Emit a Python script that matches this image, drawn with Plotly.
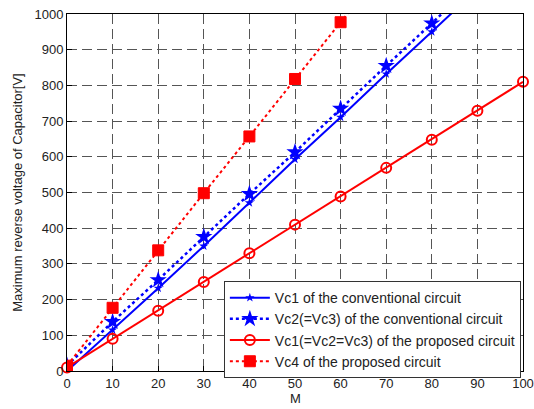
import plotly.graph_objects as go

M = [0, 10, 20, 30, 40, 50, 60, 70, 80, 90, 100]
vc1_conv = [0, 115, 232, 350, 471, 593, 711, 832, 950, 1070, 1190]
vc2_conv = [15, 138, 255, 376, 496, 613, 735, 855, 974, 1094, 1214]
vc1_prop = [10, 90, 169, 249, 330, 410, 489, 569, 648, 729, 810]
vc4_prop = [15, 177, 338, 498, 657, 818, 977, 1137, 1297, 1457, 1617]

x_ticks = list(range(0, 101, 10))
y_ticks = list(range(0, 1001, 100))

BLUE = "#0000ff"
RED = "#ff0000"

fig = go.Figure()
fig.add_trace(go.Scatter(x=M, y=vc1_conv, mode="lines+markers",
                         name="Vc1 of the conventional circuit",
                         line=dict(color=BLUE, width=2),
                         marker=dict(symbol="star", size=7, color=BLUE),
                         cliponaxis=True))
fig.add_trace(go.Scatter(x=M, y=vc2_conv, mode="lines+markers",
                         name="Vc2(=Vc3) of the conventional circuit",
                         line=dict(color=BLUE, width=2.5, dash="dot"),
                         marker=dict(symbol="star", size=13, color=BLUE),
                         cliponaxis=True))
fig.add_trace(go.Scatter(x=M, y=vc1_prop, mode="lines+markers",
                         name="Vc1(=Vc2=Vc3) of the proposed circuit",
                         line=dict(color=RED, width=2),
                         marker=dict(symbol="circle-open", size=10, color=RED,
                                     line=dict(width=2, color=RED)),
                         cliponaxis=False))
fig.add_trace(go.Scatter(x=M, y=vc4_prop, mode="lines+markers",
                         name="Vc4 of the proposed circuit",
                         line=dict(color=RED, width=2, dash="dot"),
                         marker=dict(symbol="square", size=11, color=RED,
                                     line=dict(width=1, color=RED)),
                         cliponaxis=True))

axis_common = dict(
    showline=True, linecolor="black", linewidth=1, mirror=True,
    showgrid=True, gridcolor="#555555", gridwidth=1, griddash="10px,5px",
    ticks="inside", ticklen=5, tickcolor="black",
    zeroline=False, automargin=False,
    tickfont=dict(family="Liberation Sans, Arial, sans-serif", size=13, color="#222222"),
)

fig.update_layout(
    width=534, height=409,
    margin=dict(l=67, r=11, t=14, b=38),
    paper_bgcolor="white", plot_bgcolor="white",
    font=dict(family="Liberation Sans, Arial, sans-serif", size=12, color="#222222"),
    xaxis=dict(range=[0, 100], tickvals=x_ticks, **axis_common),
    yaxis=dict(range=[0, 1000], tickvals=y_ticks, **axis_common,
               title=dict(text="Maximum reverse voltage of Capacitor[V]", standoff=8,
                          font=dict(size=13))),
    showlegend=True,
    legend=dict(x=0.344, y=0.252, xanchor="left", yanchor="top",
                bgcolor="white", bordercolor="#333333", borderwidth=1,
                font=dict(size=14, color="#222222"),
                tracegroupgap=0, itemwidth=40),
    annotations=[dict(text="M", xref="paper", yref="paper", x=0.5, y=-0.077,
                      xanchor="center", yanchor="middle", showarrow=False,
                      font=dict(size=13, color="#222222"))],
)

fig.write_html("out.html",
               config={"displayModeBar": False},
               post_script="document.body.style.margin='0';document.body.style.overflow='hidden';")
